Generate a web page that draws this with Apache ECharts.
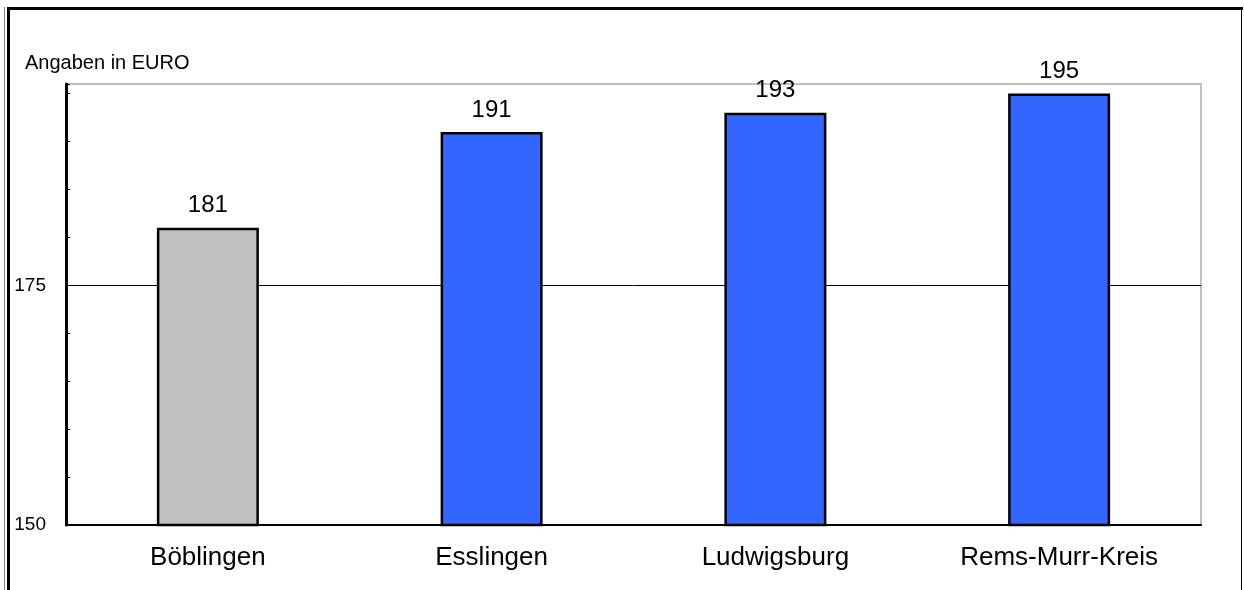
<!DOCTYPE html>
<html>
<head>
<meta charset="utf-8">
<script src="https://cdn.jsdelivr.net/npm/echarts@6/dist/echarts.min.js"></script>
<style>
html,body{margin:0;padding:0;background:#fff;}
#chart{width:1244px;height:590px;}
</style>
</head>
<body>
<div id="chart"></div>
<script>
const categories = ['Böblingen', 'Esslingen', 'Ludwigsburg', 'Rems-Murr-Kreis'];
const values = [181, 191, 193, 195];
const yLabelsShown = [150, 175];
const gridLineValue = 175;
const unitLabel = 'Angaben in EURO';

const yMin = 150, yMax = 196, yStep = 5;
const splitColors = [];
for (let v = yMin; v <= yMax; v += yStep) splitColors.push(v === gridLineValue ? '#000000' : 'rgba(0,0,0,0)');

const chart = echarts.init(document.getElementById('chart'), null, {renderer: 'canvas'});
chart.setOption({
  animation: false,
  backgroundColor: '#ffffff',
  textStyle: {fontFamily: 'Liberation Sans, Arial, sans-serif'},
  title: {
    text: unitLabel,
    left: 20, top: 48,
    textStyle: {fontSize: 20, fontWeight: 'normal', color: '#000', fontFamily: 'Liberation Sans, Arial, sans-serif'}
  },
  graphic: [
    {type: 'rect', shape: {x: 7, y: 7, width: 1236, height: 3}, style: {fill: '#000'}},
    {type: 'rect', shape: {x: 7, y: 7, width: 3, height: 590}, style: {fill: '#000'}},
    {type: 'rect', shape: {x: 4, y: 7, width: 1, height: 590}, style: {fill: '#808080'}},
    {type: 'rect', shape: {x: 1241, y: 7, width: 1, height: 590}, style: {fill: '#000'}}
  ],
  grid: {
    left: 66, right: 43, top: 84, bottom: 65,
    show: true, borderColor: '#c0c0c0', borderWidth: 2, backgroundColor: '#fff'
  },
  xAxis: {
    type: 'category',
    data: categories,
    boundaryGap: true,
    axisLine: {lineStyle: {color: '#000', width: 2}},
    axisTick: {show: false},
    axisLabel: {fontSize: 26, color: '#000', margin: 20, fontFamily: 'Liberation Sans, Arial, sans-serif'}
  },
  yAxis: {
    type: 'value',
    min: yMin, max: yMax, interval: yStep,
    axisLine: {show: true, lineStyle: {color: '#000', width: 3}},
    axisTick: {show: true, inside: true, length: 4, lineStyle: {color: '#000', width: 1}},
    axisLabel: {
      fontSize: 19, color: '#000', margin: 20,
      fontFamily: 'Liberation Sans, Arial, sans-serif',
      formatter: v => yLabelsShown.indexOf(v) >= 0 ? String(v) : ''
    },
    splitLine: {show: true, lineStyle: {color: splitColors, width: 1}}
  },
  series: [{
    type: 'bar',
    barWidth: 102,
    data: values.map((v, i) => ({
      value: v,
      itemStyle: {color: i === 0 ? '#c0c0c0' : '#3366ff', borderColor: '#000', borderWidth: 2.5}
    })),
    label: {
      show: true, position: 'top', distance: 10,
      fontSize: 24, color: '#000', fontFamily: 'Liberation Sans, Arial, sans-serif'
    }
  }]
});
</script>
</body>
</html>
